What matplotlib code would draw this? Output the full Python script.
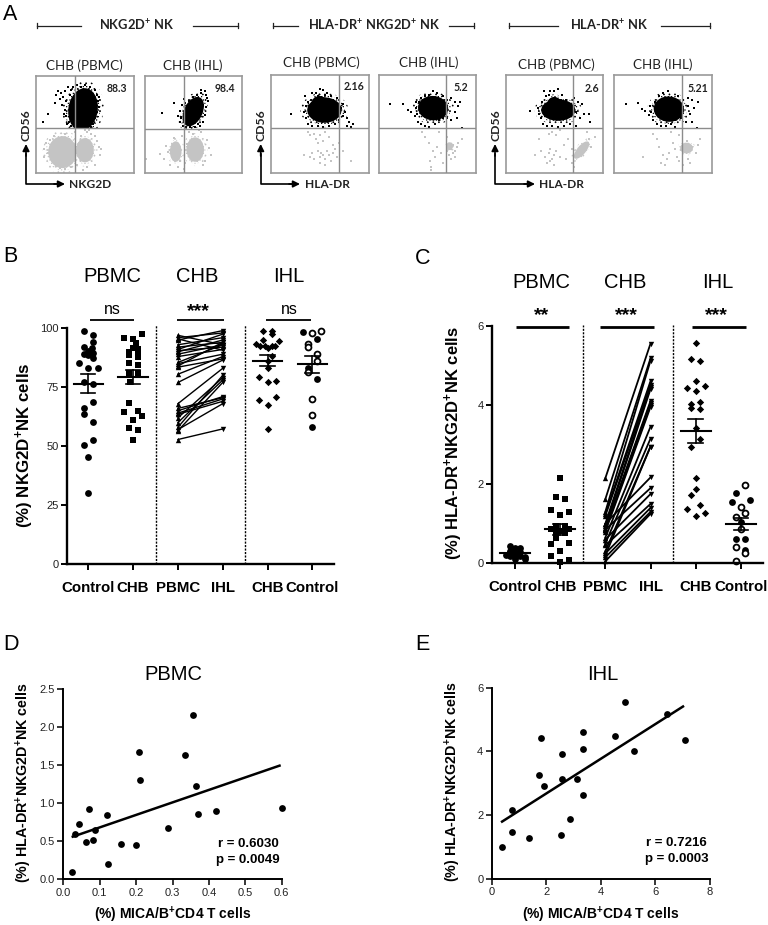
import matplotlib
matplotlib.use('Agg')
import matplotlib.pyplot as plt
from matplotlib.patches import Ellipse, Rectangle

plt.rcParams['font.family'] = ['Liberation Sans', 'DejaVu Sans']
plt.rcParams['mathtext.default'] = 'regular'
plt.rcParams['hatch.linewidth'] = 0.5

W, H = 768, 925

# panel A: values, estimated black and grey dots, and dense clouds (x, y, width, height, angle) on a 0-100 box
flow_titles = ['CHB (PBMC)', 'CHB (IHL)', 'CHB (PBMC)', 'CHB (IHL)', 'CHB (PBMC)', 'CHB (IHL)']
flow_values = ['88.3', '98.4', '2.16', '5.2', '2.6', '5.21']
flow_black = [
    [(20,80),(22,84),(24,76),(26,82),(19,72),(28,78),(30,84),(27,70),(31,74),(33,88),(36,85),(38,88),(42,90),(46,88),(50,90),(55,88),(60,85),(62,80),(63,74),(64,68),(62,62),(60,56),(58,50),(30,64),(31,58),(29,60),(34,52),(36,48),(32,50),(7,52),(12,60),(40,47),(50,46.5),(56,47),(61,70),(64,78),(35,80),(37,70)],
    [(40,76),(38,70),(36,64),(34,58),(36,52),(39,48),(42,47),(47,47),(52,47),(57,48),(60,52),(62,60),(63,68),(65,74),(63,80),(62,84),(58,82),(54,80),(50,78),(46,74),(42,72),(30,72),(18,62),(37,56),(44,50),(55,50),(60,70),(64,77),(58,85)],
    [(38,72),(35,78),(36,68),(34,62),(36,56),(38,50),(42,48),(48,48),(54,47),(60,48),(66,50),(70,54),(74,58),(78,48),(82,47),(78,56),(72,66),(76,62),(74,70),(68,76),(62,78),(58,82),(54,85),(50,86),(46,82),(42,82),(48,78),(56,80),(64,72),(40,64),(21,60),(80,52),(84,50)],
    [(12,70),(25,70),(30,64),(33,62),(37,58),(39,60),(38,66),(38,72),(40,52),(44,50),(48,48),(52,47),(58,50),(62,54),(66,56),(70,56),(74,54),(80,56),(86,46),(78,62),(82,68),(84,72),(78,72),(74,76),(70,74),(66,78),(60,82),(56,84),(52,80),(48,78),(44,76),(42,72)],
    [(25,63),(33,66),(34,60),(37,72),(36,56),(38,50),(42,48),(48,48),(54,47),(60,48),(66,50),(72,48),(76,56),(80,60),(86,60),(87,52),(78,70),(74,72),(70,76),(66,70),(58,80),(54,86),(50,84),(46,84),(41,78),(39,84),(44,80),(62,74),(72,62),(40,58)],
    [(12,70),(24,71),(29,65),(32,63),(36,59),(38,62),(37,68),(40,54),(44,50),(48,48),(53,48),(58,50),(62,54),(68,56),(73,52),(80,52),(85,46),(78,60),(82,66),(86,72),(80,74),(75,76),(70,74),(65,78),(55,84),(50,82),(46,78),(42,72),(76,68),(62,46.5)],
]
flow_grey = [
    [(8,24),(10,30),(12,20),(15,15),(14,34),(18,38),(20,8),(24,5),(30,4),(36,6),(42,8),(44,30),(46,38),(52,42),(56,40),(60,38),(62,32),(64,26),(65,18),(60,8),(52,6),(48,3),(8,16),(40,42),(30,40),(66,24),(50,44),(54,44)],
    [(16,20),(20,14),(22,28),(24,22),(26,8),(30,36),(34,6),(38,38),(42,10),(46,42),(50,40),(58,42),(60,8),(62,12),(64,34),(66,26),(68,18),(44,30),(56,44),(2,14),(36,12),(40,4)],
    [(38,42),(40,38),(44,40),(46,34),(50,38),(48,30),(54,32),(56,42),(60,36),(64,28),(42,20),(40,16),(44,14),(48,22),(50,16),(52,20),(54,18),(56,14),(58,22),(60,18),(62,12),(64,20),(66,24),(68,16),(50,10),(56,8),(74,22),(82,12),(70,30),(34,18)],
    [(45,42),(48,36),(52,30),(56,22),(58,16),(60,26),(64,20),(66,10),(53,12),(54,6),(54,3),(70,36),(72,28),(74,24),(76,20),(78,16),(80,26),(82,30),(86,34),(72,18),(74,14),(78,22),(70,22),(76,28),(62,42)],
    [(34,34),(30,18),(36,22),(40,16),(44,20),(46,24),(48,14),(50,18),(52,22),(46,12),(50,8),(42,10),(56,16),(60,28),(64,34),(62,14),(68,10),(68,24),(84,42),(86,34),(88,26),(70,6),(52,38),(48,42),(56,44),(44,40),(92,36)],
    [(40,40),(44,34),(46,26),(50,18),(48,10),(52,8),(54,14),(56,20),(60,30),(62,24),(64,16),(66,12),(70,8),(72,28),(74,32),(80,26),(84,20),(86,28),(88,34),(76,14),(78,10),(58,42),(66,38),(30,16)],
]
flow_black_clouds = [
    [(48,65,30,44,-8)],
    [(50,63,19,32,-25)],
    [(55,64,35,26,0),(50,70,17,17,0)],
    [(56,66,31,25,-5)],
    [(54,64,35,22,0),(50,70,15,15,0)],
    [(56,65,31,26,-5)],
]
flow_grey_clouds = [
    [(27,21,29,33,0),(50,23,18,25,0)],
    [(32,22,12,21,0),(52,24,18,25,0)],
    [],
    [(73,27,7,8,0)],
    [(78,23,9,22,-40)],
    [(74,25,13,11,0)],
]
flow_dividers = [(40,46),(41,45.5),(70,45.5),(69,45.5),(69,45.5),(69,45.5)]

# panel B
b_ticks = ['Control', 'CHB', 'PBMC', 'IHL', 'CHB', 'Control']
b_control = [98.9,97,94.2,92,91.5,90.5,89.7,89,88.7,87.3,85.4,83,83,77.4,76.4,68.7,66,63.5,60.4,52.6,50.6,45.4,30]
b_control_dx = [-.1,.11,.11,-.1,.09,0,.11,-.1,0,.11,-.2,0,.21,-.1,.11,.11,-.1,-.1,.11,.11,-.1,0,0]
b_chb = [97.4,96,95.3,93.6,91.8,91,89.8,89.4,88.7,87.7,85.4,84.4,81,81,77.4,68.2,65,64.6,62.8,61,57.7,56.9,52.8]
b_chb_dx = [.2,-.2,0,.06,0,.1,-.1,.1,-.1,.1,-.1,.1,.1,-.1,-.06,-.1,.1,-.2,.2,0,-.1,.1,0]
b_pbmc = [97,96,95.5,95,93,92,91,90.5,90,89,88,85.5,85,84,83.5,80.5,77,68,66,65,64,63.5,62,60,58,57,56.5,52.8]
b_ihl = [93,98,90.7,99,96,94,97.5,92,95,93,91,93,89,94,87,88,86.5,83,70.5,71,70,69,79,78,80,68,77,57.3]
b_ihl_chb = [98.7,98.7,97.6,94.9,93.4,92.5,92.5,91.5,92.5,92.5,94.5,88.3,86.3,83,79.5,77,77.5,69.6,70.8,67.5,57.1]
b_ihl_chb_dx = [-.11,.1,.1,-.1,-.25,-.16,-.05,0,.1,.17,.26,.1,0,0,-.2,0,.2,-.2,.2,0,0]
b_ihl_filled = [98.4,95.6,83,78.4,58]
b_ihl_filled_dx = [-.2,.1,-.1,.1,0]
b_ihl_open = [97.9,98.9,93.4,92,89.1,86.3,81.5,69.9,63.4]
b_ihl_open_dx = [0,.2,-.1,-.1,.1,.1,-.1,0,0]
b_mean = [(0,76.5,72.7,80.5),(1,79.2,76.2,82.3),(4,86.3,83.9,88.8),(5,84.9,81,88.4)]

# panel C
c_ticks = ['Control', 'CHB', 'PBMC', 'IHL', 'CHB', 'Control']
c_control = [.44,.38,.38,.32,.29,.27,.21,.185,.17,.1,.1,.21,.185]
c_control_dx = [-.1,.11,0,-.1,.11,0,-.2,-.1,.22,0,.22,0,.11]
c_chb = [2.155,1.667,1.625,1.347,1.305,1.212,.943,.943,.875,.875,.825,.757,.757,.63,.49,.505,.32,.185,.04,.085]
c_chb_dx = [0,-.1,.1,-.2,.2,0,-.1,.1,-.2,.2,0,-.1,.1,-.1,-.2,.2,0,-.2,0,.2]
c_pbmc = [2.15,1.62,1.3,1.25,1.2,1.0,.95,.9,.87,.85,.8,.65,.5,.3,.2,1.0,.85,.6,.45,.25,.15,.05]
c_ihl = [5.55,5.18,5.12,4.6,4.5,4.45,4.4,4.1,4.05,4.0,3.95,3.45,3.15,2.95,2.95,2.17,1.9,1.75,1.5,1.4,1.3,1.25]
c_ihl_chb = [5.56,5.17,5.12,4.6,4.43,4.49,4.35,4.02,4.08,3.92,3.9,3.43,3.13,2.94,2.16,1.88,1.72,1.48,1.37,1.2,1.26]
c_ihl_chb_dx = [0,-.1,.1,0,-.2,.2,0,-.1,.1,-.1,.1,0,.1,-.1,0,0,-.1,.1,-.2,0,.2]
c_ihl_filled = [1.77,1.54,1.59,1.05,.62,.62,.34]
c_ihl_filled_dx = [-.1,-.2,.2,0,-.1,.1,.1]
c_ihl_open = [1.97,1.43,1.28,1.16,.86,.4,.27,.07]
c_ihl_open_dx = [.1,0,.1,-.1,0,-.1,.1,-.1]
c_mean = [(0,.26,.23,.29),(1,.86,.715,1.0),(4,3.34,3.04,3.65),(5,1.0,.83,1.15)]

# panels D and E
d_x = [.025,.033,.042,.061,.071,.081,.088,.121,.123,.159,.2,.208,.21,.287,.334,.355,.365,.37,.42,.6]
d_y = [.1,.6,.727,.49,.928,.517,.648,.84,.197,.468,.451,1.668,1.309,.67,1.629,2.158,1.222,.858,.902,.941]
d_fit_x = [.026,.594]
d_fit_y = [.56,1.493]
e_x = [.38,.745,.757,1.356,1.734,1.81,1.905,2.53,2.58,2.59,2.87,3.14,3.33,3.33,3.33,4.53,4.9,5.2,6.44,7.07]
e_y = [.99,2.16,1.484,1.275,3.27,4.42,2.93,1.38,3.91,3.146,1.87,3.136,4.6,4.077,2.62,4.485,5.56,4.01,5.16,4.35]
e_fit_x = [.38,7.01]
e_fit_y = [1.8,5.41]


def px_axes(left, top, right, bottom):
    return fig.add_axes([left / W, 1 - bottom / H, (right - left) / W, (bottom - top) / H])


def spread(center, dx):
    return [center + d for d in dx]


def draw_cloud(ax, row, color, gate):
    # solid core, then a dense and a loose speckled ring around it
    x, y, w, h, a = row
    parts = [Ellipse((x, y), w * 1.4, h * 1.35, angle=a, fill=False, hatch='...', edgecolor=color, lw=0),
             Ellipse((x, y), w * 1.18, h * 1.16, angle=a, fill=False, hatch='.....', edgecolor=color, lw=0),
             Ellipse((x, y), w, h, angle=a, facecolor=color, edgecolor='none')]
    for p in parts:
        ax.add_patch(p)
        p.set_clip_path(Rectangle(*gate, transform=ax.transData))


def draw_flow(i, box):
    ax = px_axes(*box)
    ax.set_xlim(0, 100)
    ax.set_ylim(0, 100)
    ax.set_xticks([])
    ax.set_yticks([])
    for s in ax.spines.values():
        s.set_color('#9a9a9a')
        s.set_linewidth(1.2)
    vx, hy = flow_dividers[i]
    for row in flow_grey_clouds[i]:
        draw_cloud(ax, row, '#c4c4c4', ((0, 0), 100, hy))
    gx, gy = zip(*flow_grey[i])
    ax.scatter(gx, gy, s=1.6, c='#c4c4c4', marker='s', linewidths=0)
    for row in flow_black_clouds[i]:
        draw_cloud(ax, row, 'black', ((0, hy), 100, 100 - hy))
    bx, by = zip(*flow_black[i])
    ax.scatter(bx, by, s=2.2, c='black', marker='s', linewidths=0)
    ax.axvline(vx, color='#8c8c8c', lw=1, zorder=3)
    ax.axhline(hy, color='#8c8c8c', lw=1, zorder=3)


def style_strip(ax, xlim, ylim, yticks, ticks, dash_top):
    ax.set_xlim(*xlim)
    ax.set_ylim(*ylim)
    ax.set_yticks(yticks)
    ax.set_xticks(range(6))
    ax.set_xticklabels(ticks, fontweight='bold', fontsize=10.8)
    ax.spines['top'].set_visible(False)
    ax.spines['right'].set_visible(False)
    ax.spines['left'].set_linewidth(1.7)
    ax.spines['left'].set_bounds(0, yticks[-1])
    ax.spines['bottom'].set_linewidth(1.7)
    ax.tick_params(axis='y', labelsize=8, width=1.4, length=4, pad=1.5, labelcolor='#222222')
    ax.tick_params(axis='x', width=1.4, length=4, pad=8)
    ax.patch.set_alpha(0)
    for x in (1.5, 3.5):
        ax.plot([x, x], [ylim[0], dash_top], color='black', lw=1, ls=(0, (1.5, 1)), clip_on=False)


def mean_bars(ax, rows):
    for x, m, lo, hi in rows:
        ax.plot([x - .33, x + .33], [m, m], color='black', lw=1.5, zorder=5)
        ax.plot([x, x], [lo, hi], color='black', lw=1.2, zorder=5)
        ax.plot([x - .16, x + .16], [lo, lo], color='black', lw=1.2, zorder=5)
        ax.plot([x - .16, x + .16], [hi, hi], color='black', lw=1.2, zorder=5)


def strips(ax, left, left_dx, second, second_dx, pbmc, ihl, chb, chb_dx, filled, filled_dx, opened, opened_dx, pair_lw):
    ax.scatter(spread(0, left_dx), left, s=24, c='black', marker='o', linewidths=0, clip_on=False)
    ax.scatter(spread(1, second_dx), second, s=24, c='black', marker='s', linewidths=0, clip_on=False)
    for a, b in zip(pbmc, ihl):
        ax.plot([2, 3], [a, b], color='black', lw=pair_lw)
    ax.scatter([2] * len(pbmc), pbmc, s=15, c='black', marker='^', linewidths=0, clip_on=False)
    ax.scatter([3] * len(ihl), ihl, s=15, c='black', marker='v', linewidths=0, clip_on=False)
    ax.scatter(spread(4, chb_dx), chb, s=14, c='black', marker='D', linewidths=0, clip_on=False)
    ax.scatter(spread(5, filled_dx), filled, s=24, c='black', marker='o', linewidths=0, clip_on=False)
    ax.scatter(spread(5, opened_dx), opened, s=18, c='white', edgecolors='black', marker='o', linewidths=1.3, clip_on=False)


def style_xy(ax, xlim, ylim, xticks, yticks, xfmt, yfmt):
    ax.set_xlim(*xlim)
    ax.set_ylim(*ylim)
    ax.set_xticks(xticks)
    ax.set_yticks(yticks)
    ax.set_xticklabels([xfmt % t for t in xticks])
    ax.set_yticklabels([yfmt % t for t in yticks])
    ax.spines['top'].set_visible(False)
    ax.spines['right'].set_visible(False)
    ax.spines['left'].set_linewidth(1.4)
    ax.spines['bottom'].set_linewidth(1.4)
    ax.tick_params(labelsize=8, width=1.1, length=4, pad=2, labelcolor='#222222')
    ax.patch.set_alpha(0)


fig = plt.figure(figsize=(W / 100, H / 100), dpi=100)

flow_boxes = [(36, 75.5, 134, 172.5), (144.5, 75.5, 242, 173), (270.5, 75, 368.5, 172.5),
              (378.5, 75, 476, 172.5), (505.7, 75, 603, 172.5), (614, 75, 712, 172.5)]
for n, box in enumerate(flow_boxes):
    draw_flow(n, box)

ax_b = px_axes(66.7, 320, 334, 564)
style_strip(ax_b, (-0.482, 5.484), (0, 103.5), [0, 25, 50, 75, 100], b_ticks, 101.5)
strips(ax_b, b_control, b_control_dx, b_chb, b_chb_dx, b_pbmc, b_ihl, b_ihl_chb, b_ihl_chb_dx,
       b_ihl_filled, b_ihl_filled_dx, b_ihl_open, b_ihl_open_dx, 1)
mean_bars(ax_b, b_mean)

ax_c = px_axes(491.7, 325, 763, 563.3)
style_strip(ax_c, (-0.515, 5.49), (0, 6.02), [0, 2, 4, 6], c_ticks, 6.02)
strips(ax_c, c_control, c_control_dx, c_chb, c_chb_dx, c_pbmc, c_ihl, c_ihl_chb, c_ihl_chb_dx,
       c_ihl_filled, c_ihl_filled_dx, c_ihl_open, c_ihl_open_dx, 1.3)
mean_bars(ax_c, c_mean)

ax_d = px_axes(63.3, 689, 281.7, 879.3)
style_xy(ax_d, (0, .6), (0, 2.5), [0, .1, .2, .3, .4, .5, .6], [0, .5, 1, 1.5, 2, 2.5], '%.1f', '%.1f')
ax_d.plot(d_fit_x, d_fit_y, color='black', lw=1.8)
ax_d.scatter(d_x, d_y, s=24, c='black', linewidths=0, clip_on=False, zorder=3)

ax_e = px_axes(491.7, 687.7, 710, 879)
style_xy(ax_e, (0, 8), (0, 6), [0, 2, 4, 6, 8], [0, 2, 4, 6], '%d', '%d')
ax_e.plot(e_fit_x, e_fit_y, color='black', lw=1.8)
ax_e.scatter(e_x, e_y, s=24, c='black', linewidths=0, clip_on=False, zorder=3)

# everything else is placed in image pixels on one clear overlay
top = fig.add_axes([0, 0, 1, 1])
top.set_xlim(0, W)
top.set_ylim(H, 0)
top.axis('off')

LATO = ['Lato', 'DejaVu Sans']
for x, y, s in [(3, 15, 'A'), (3, 257, 'B'), (415, 258, 'C'), (3, 644, 'D'), (415, 645, 'E')]:
    top.text(x, y, s, fontsize=15.5, ha='left', va='center')

for x, y, s in [(84.3, 66, 0), (192.7, 66, 1), (321, 63, 2), (429, 63, 3), (556.7, 65, 4), (663, 65, 5)]:
    top.text(x, y, flow_titles[s], family=LATO, fontsize=9.7, ha='center', va='center', color='#222222')
for x, y, s in [(117, 89, 0), (224.7, 89, 1), (353.7, 87, 2), (461, 87.5, 3), (591.7, 88.5, 4), (698, 88.5, 5)]:
    top.text(x, y, flow_values[s], family=LATO, fontsize=7.6, fontweight='bold', ha='center', va='center', color='#222222')

for x, s in [(137, r'NKG2D$^{+}$ NK'), (374, r'HLA-DR$^{+}$ NKG2D$^{+}$ NK'), (609.5, r'HLA-DR$^{+}$ NK')]:
    top.text(x, 25, s, family=LATO, fontsize=9.3, fontweight='bold', ha='center', va='center', color='#222222')
for x0, x1, cap in [(36.5, 81, 36.5), (193, 238, 238), (272.7, 297.7, 272.7), (449, 474, 474), (508.7, 558, 508.7), (660.7, 710, 710)]:
    top.plot([x0, x1], [25.5, 25.5], color='#222222', lw=0.9)
    top.plot([cap, cap], [23, 28], color='#222222', lw=0.9)

for x, xend, lx, lab in [(26, 65, 69, 'NKG2D'), (260.7, 300, 305, 'HLA-DR'), (495, 535, 539, 'HLA-DR')]:
    top.plot([x, x, xend - 8], [154, 184, 184], color='black', lw=1.2)
    top.annotate('', xy=(x, 144), xytext=(x, 156), arrowprops=dict(arrowstyle='-|>', color='black', lw=1.2, shrinkA=0, shrinkB=0, mutation_scale=10))
    top.annotate('', xy=(xend, 184), xytext=(xend - 11, 184), arrowprops=dict(arrowstyle='-|>', color='black', lw=1.2, shrinkA=0, shrinkB=0, mutation_scale=10))
    top.text(lx, 184.5, lab, family=LATO, fontsize=8.6, fontweight='bold', ha='left', va='center', color='#222222')
    top.text(x + .5, 125, 'CD56', family=LATO, fontsize=8.8, fontweight='bold', rotation=90, ha='center', va='center', color='#222222')

for x, y, s in [(112.7, 276, 'PBMC'), (196.7, 276, 'CHB'), (289, 276, 'IHL'),
                (541, 283, 'PBMC'), (625, 283, 'CHB'), (718, 283, 'IHL'),
                (173, 675, 'PBMC'), (603, 675, 'IHL')]:
    top.text(x, y, s, fontsize=14.5, ha='center', va='center')

for x, y, s, size in [(112.7, 309, 'ns', 11.5), (198, 312, '***', 14), (289, 309, 'ns', 11.5),
                      (542, 316, '**', 14), (626.5, 316, '***', 14), (716, 316, '***', 14)]:
    top.text(x, y, s, fontsize=size, ha='center', va='center', fontweight='bold' if '*' in s else 'normal')
for x0, x1, y, lw in [(89.5, 134, 320, 1.3), (176.5, 224, 320, 1.3), (266, 311, 320, 1.3),
                      (515.5, 569, 326.5, 2), (600, 654, 326.5, 2), (691.7, 745.7, 326.5, 2)]:
    top.plot([x0, x1], [y, y], color='black', lw=lw, solid_capstyle='butt')

ylab_nk = r'(%) NKG2D$^{+}$NK cells'
ylab_hla = r'(%) HLA-DR$^{+}$NKG2D$^{+}$NK cells'
xlab_mica = r'(%) MICA/B$^{+}$CD4 T cells'
top.text(25, 445, ylab_nk, fontsize=12.2, fontweight='bold', rotation=90, ha='center', va='center')
top.text(454, 443, ylab_hla, fontsize=12, fontweight='bold', rotation=90, ha='center', va='center')
top.text(24, 783, ylab_hla, fontsize=10.3, fontweight='bold', rotation=90, ha='center', va='center')
top.text(453, 782, ylab_hla, fontsize=10.3, fontweight='bold', rotation=90, ha='center', va='center')
top.text(173, 915, xlab_mica, fontsize=10, fontweight='bold', ha='center', va='center')
top.text(601, 915, xlab_mica, fontsize=10, fontweight='bold', ha='center', va='center')

for x, y, s in [(248.3, 844, 'r = 0.6030'), (248.3, 860, 'p = 0.0049'), (676.7, 843, 'r = 0.7216'), (676.7, 858.7, 'p = 0.0003')]:
    top.text(x, y, s, fontsize=9.5, fontweight='bold', ha='center', va='center')

fig.savefig('out.png', dpi=100)
